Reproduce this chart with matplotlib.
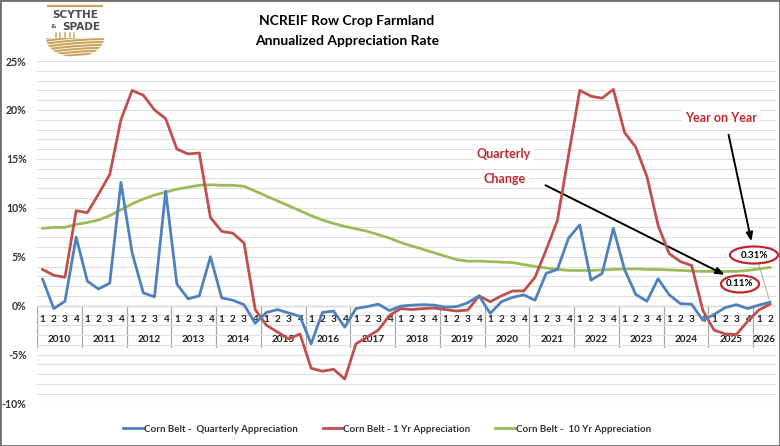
import matplotlib
matplotlib.use("Agg")
import matplotlib.pyplot as plt
from matplotlib.patches import Ellipse, Rectangle, Polygon
import numpy as np

plt.rcParams['font.family'] = ['Lato', 'DejaVu Sans']

# Quarters on the x axis
years = ["2010", "2011", "2012", "2013", "2014", "2015", "2016", "2017",
         "2018", "2019", "2020", "2021", "2022", "2023", "2024", "2025", "2026"]
quarters_per_year = [4] * 16 + [2]

# Corn Belt appreciation series (%)
quarterly = [2.7, -0.3, 0.45, 7.0, 2.5, 1.7, 2.3, 12.6, 5.4, 1.3, 0.9, 11.7,
             2.2, 0.7, 1.0, 5.0, 0.8, 0.55, 0.1, -1.8, -0.7, -0.4, -0.75, -1.1,
             -3.9, -0.7, -0.55, -2.2, -0.3, -0.1, 0.15, -0.5, -0.05, 0.05, 0.1, 0.05,
             -0.15, -0.1, 0.3, 1.0, -0.8, 0.4, 0.85, 1.1, 0.55, 3.3, 3.7, 6.9,
             8.25, 2.6, 3.3, 7.9, 3.7, 1.15, 0.45, 2.75, 1.1, 0.2, 0.15, -1.5,
             -0.9, -0.2, 0.1, -0.3, 0.05, 0.35]
one_year = [3.7, 3.1, 2.9, 9.7, 9.5, 11.4, 13.4, 19.0, 22.0, 21.5, 20.0, 19.1,
            16.0, 15.5, 15.6, 9.0, 7.6, 7.4, 6.4, -0.4, -2.0, -2.7, -3.4, -2.9,
            -6.4, -6.7, -6.5, -7.5, -3.9, -3.2, -2.5, -1.0, -0.3, -0.4, -0.3, -0.25,
            -0.4, -0.55, -0.45, 1.0, 0.4, 1.0, 1.5, 1.5, 2.9, 5.7, 8.7, 15.4,
            22.0, 21.4, 21.2, 22.1, 17.7, 16.2, 13.2, 8.2, 5.3, 4.5, 4.1, -0.5,
            -2.5, -2.9, -2.95, -1.6, -0.45, 0.15]
ten_year = [7.9, 8.0, 8.0, 8.3, 8.5, 8.75, 9.2, 9.8, 10.4, 10.9, 11.3, 11.6,
            11.9, 12.1, 12.3, 12.35, 12.3, 12.3, 12.2, 11.7, 11.2, 10.7, 10.2, 9.7,
            9.2, 8.75, 8.4, 8.1, 7.85, 7.6, 7.25, 6.9, 6.45, 6.1, 5.75, 5.4,
            5.05, 4.7, 4.55, 4.55, 4.5, 4.45, 4.4, 4.2, 4.0, 3.85, 3.7, 3.6,
            3.6, 3.6, 3.65, 3.7, 3.75, 3.75, 3.7, 3.7, 3.65, 3.6, 3.55, 3.5,
            3.5, 3.5, 3.5, 3.6, 3.75, 3.9]

latest_quarterly = "0.11%"
latest_yoy = "0.31%"

W, H = 780, 446
fig = plt.figure(figsize=(W / 100, H / 100), dpi=100)
ax = fig.add_axes([37 / W, 1 - 403.5 / H, (775.6 - 37) / W, (403.5 - 61) / H])

x = np.arange(len(quarterly))
ax.plot(x, quarterly, color="#4f81bd", lw=2, label="Corn Belt -  Quarterly Appreciation", zorder=5)
ax.plot(x, one_year, color="#c0504d", lw=2, label="Corn Belt - 1 Yr Appreciation", zorder=4)
ax.plot(x, ten_year, color="#9bbb59", lw=2, label="Corn Belt -  10 Yr Appreciation", zorder=3)

ax.set_xlim(-0.5, len(quarterly) - 0.5)
ax.set_ylim(-10, 25)
ax.set_yticks(range(-10, 26, 5))
ax.set_yticklabels([f"{v}%" for v in range(-10, 26, 5)])
ax.set_yticks(range(-10, 26), minor=True)
ax.grid(True, which="both", axis="y", color="#dedede", lw=0.8, zorder=0)
ax.set_xticks([])
ax.tick_params(axis="y", which="both", length=0, pad=7.5, labelsize=7.6,
               labelcolor="#333333")
for lab in ax.get_yticklabels():
    lab.set_fontweight("bold")
for s in ax.spines.values():
    s.set_visible(False)

# Multi level category axis (quarter numbers + year)
ax.axhline(0, color="#a6a6a6", lw=0.9, zorder=1)
pos = 0
ax.plot([-0.5, -0.5], [0, -4.2], color="#a6a6a6", lw=0.9, zorder=1)
for yr, nq in zip(years, quarters_per_year):
    for q in range(nq):
        ax.text(pos + q, -1.4, str(q + 1), ha="center", va="center",
                fontsize=7.2, fontweight="bold", color="#222222", zorder=2)
    ax.text(pos + (nq - 1) / 2, -3.5, yr, ha="center", va="center",
            fontsize=7.2, fontweight="bold", color="#222222", zorder=2)
    pos += nq
    ax.plot([pos - 0.5, pos - 0.5], [0, -4.2], color="#a6a6a6", lw=0.9, zorder=1)

# Title
fig.text(347 / W, 1 - 21 / H, "NCREIF Row Crop Farmland", ha="center", va="center",
         fontsize=10, fontweight="bold")
fig.text(347 / W, 1 - 41 / H, "Annualized Appreciation Rate", ha="center", va="center",
         fontsize=10, fontweight="bold")

# Legend
fig.legend(loc="center", bbox_to_anchor=(387 / W, 1 - 429 / H), ncol=3, frameon=False,
           prop={"size": 7, "weight": "bold"}, handlelength=2.0, columnspacing=2.6,
           handletextpad=0.1, labelcolor="#333333")

# Annotations
red = "#c0282d"
fig.text(504 / W, 1 - 154 / H, "Quarterly", ha="center", va="center", color=red,
         fontsize=9, fontweight="bold",
         bbox=dict(fc="white", ec="none", pad=2))
fig.text(505 / W, 1 - 179 / H, "Change", ha="center", va="center", color=red,
         fontsize=9, fontweight="bold",
         bbox=dict(fc="white", ec="none", pad=2))
fig.text(721 / W, 1 - 118 / H, "Year on Year", ha="center", va="center", color=red,
         fontsize=9, fontweight="bold",
         bbox=dict(fc="white", ec="none", pad=2))

arrow = dict(arrowstyle="-|>,head_length=0.5,head_width=0.2", color="black", lw=1.4)
ax.annotate("", xy=(727, H - 276), xycoords="figure pixels",
            xytext=(543, H - 184), textcoords="figure pixels", arrowprops=arrow)
ax.annotate("", xy=(752, H - 244), xycoords="figure pixels",
            xytext=(728, H - 132), textcoords="figure pixels", arrowprops=arrow)

# thin connector from the latest point to its label
ax.annotate("", xy=(x[-1], quarterly[-1]), xycoords="data",
            xytext=(758, H - 262), textcoords="figure pixels",
            arrowprops=dict(arrowstyle="-", color="#a0a0a0", lw=0.6))

for cx, cy, w, h, txt in [(754, 255, 48, 17, latest_yoy), (740, 284, 38, 17, latest_quarterly)]:
    fig.add_artist(Ellipse((cx / W, 1 - cy / H), w / W, h / H, transform=fig.transFigure,
                           fc="white", ec=red, lw=1.6, zorder=6))
    fig.text(cx / W, 1 - cy / H, txt, ha="center", va="center", fontsize=7,
             fontweight="bold", zorder=7)

# Logo
gold = "#c9a45c"
fig.add_artist(plt.Line2D([48 / W, 102 / W], [1 - 5.7 / H, 1 - 5.7 / H],
                          transform=fig.transFigure, color=gold, lw=1.5))
fig.text(75.5 / W, 1 - 15.5 / H, "SCYTHE", ha="center", va="center", fontsize=7.6,
         fontweight="bold", color="#4d4d4f", family="DejaVu Sans")
fig.text(81 / W, 1 - 26.5 / H, "SPADE", ha="center", va="center", fontsize=7.6,
         fontweight="bold", color="#4d4d4f", family="DejaVu Sans")
fig.text(53 / W, 1 - 27 / H, "&", ha="center", va="center", fontsize=4.5,
         fontweight="bold", color="#4d4d4f", family="DejaVu Sans")
lax = fig.add_axes([45 / W, 1 - 58 / H, 60 / W, 27 / H])
lax.set_xlim(0, 60)
lax.set_ylim(27, 0)
lax.axis("off")
t = np.linspace(0, np.pi, 60)
bowl = np.column_stack([30 + 29 * np.cos(t), 7 + 19 * np.sin(t)])
bowl = np.vstack([bowl, [[1, 7], [59, 7]]])
clip = Polygon(bowl, closed=True, fc="none", ec="none")
lax.add_patch(clip)
xs = np.linspace(0, 60, 40)
for k in range(8):
    ys = 6 + k * 2.9 - 0.08 * xs + 0.0012 * (xs - 30) ** 2
    ln, = lax.plot(xs, ys, color=gold, lw=1.5)
    ln.set_clip_path(clip)
for px in [11, 15, 20, 25, 29]:
    lax.plot([px, px], [2, 6.5], color=gold, lw=1.1)

# Border round the picture
fig.add_artist(Rectangle((0, 0), 1, 1, transform=fig.transFigure, fill=False,
                         ec="#6f6f6f", lw=2))

plt.savefig("out.png", dpi=100)
